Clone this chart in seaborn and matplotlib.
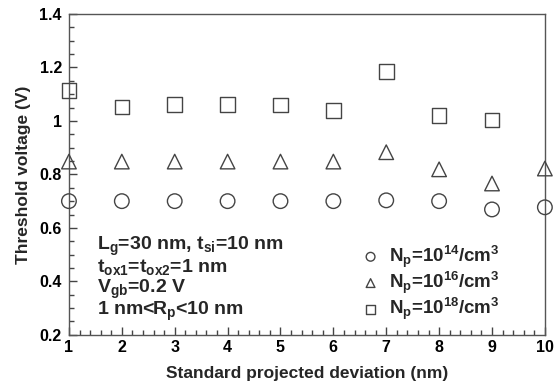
import matplotlib
matplotlib.use("Agg")
import matplotlib.pyplot as plt
import matplotlib.ticker as mticker
import pandas as pd
import seaborn as sns

# data
deviation = [1, 2, 3, 4, 5, 6, 7, 8, 9, 10]
vt_np14 = [0.700, 0.700, 0.700, 0.700, 0.700, 0.700, 0.703, 0.700, 0.669, 0.677]
vt_np16 = [0.848, 0.848, 0.848, 0.848, 0.848, 0.848, 0.883, 0.819, 0.766, 0.822]
vt_np18 = [1.114, 1.052, 1.062, 1.062, 1.060, 1.039, 1.184, 1.020, 1.003, None]

labels = [r"N$_\mathregular{p}$=10$^\mathregular{14}$/cm$^\mathregular{3}$",
          r"N$_\mathregular{p}$=10$^\mathregular{16}$/cm$^\mathregular{3}$",
          r"N$_\mathregular{p}$=10$^\mathregular{18}$/cm$^\mathregular{3}$"]
markers = ["o", "^", "s"]

sns.set_style("ticks")
plt.rcParams["font.family"] = ["Liberation Sans", "DejaVu Sans"]
plt.rcParams["font.weight"] = "bold"
plt.rcParams["mathtext.default"] = "regular"

fig, ax = plt.subplots(figsize=(5.56, 3.88), dpi=100)
fig.subplots_adjust(left=0.124, right=0.980, top=0.964, bottom=0.137)

edge = "#444444"
for vals, lab, mk in zip([vt_np14, vt_np16, vt_np18], labels, markers):
    df = pd.DataFrame({"x": deviation, "y": vals}).dropna()
    sns.scatterplot(data=df, x="x", y="y", marker=mk, s=110, facecolor="none",
                    edgecolor=edge, linewidth=1.0, label=lab, ax=ax, clip_on=False,
                    zorder=3)

ax.set_xlim(1, 10)
ax.set_ylim(0.2, 1.4)
ax.xaxis.set_major_locator(mticker.MultipleLocator(1))
ax.xaxis.set_minor_locator(mticker.MultipleLocator(0.2))
ax.yaxis.set_major_locator(mticker.MultipleLocator(0.2))
ax.yaxis.set_minor_locator(mticker.MultipleLocator(0.05))
ax.yaxis.set_major_formatter(mticker.FuncFormatter(lambda v, p: f"{v:g}"))
ax.tick_params(which="both", direction="in", top=False, right=False, colors="#444444",
               labelcolor="black", labelsize=11.5)
ax.tick_params(which="major", length=6, width=1)
ax.tick_params(which="minor", length=3.5, width=1)
ax.tick_params(axis="y", pad=5)
for lbl in ax.get_xticklabels() + ax.get_yticklabels():
    lbl.set_fontweight("bold")
for sp in ax.spines.values():
    sp.set_color("#555555")
    sp.set_linewidth(1.0)

ax.set_xlabel("Standard projected deviation (nm)", fontsize=12.5, fontweight="bold", labelpad=8)
ax.set_ylabel("Threshold voltage (V)", fontsize=12.5, fontweight="bold", labelpad=6)

notes = [r"L$_\mathregular{g}$=30 nm, t$_\mathregular{si}$=10 nm",
         r"t$_\mathregular{ox1}$=t$_\mathregular{ox2}$=1 nm",
         r"V$_\mathregular{gb}$=0.2 V",
         r"1 nm<R$_\mathregular{p}$<10 nm"]
for i, t in enumerate(notes):
    ax.text(0.058, 0.265 - i * 0.0676, t, transform=ax.transAxes, fontsize=14,
            fontweight="bold", va="baseline", ha="left")

ax.legend(loc="upper left", bbox_to_anchor=(0.618, 0.285), frameon=False,
          prop={"weight": "bold", "size": 13.5}, handletextpad=0.6, labelspacing=0.0,
          markerscale=0.6, handlelength=0.8, borderpad=0, borderaxespad=0)

fig.savefig("out.png", dpi=100)
